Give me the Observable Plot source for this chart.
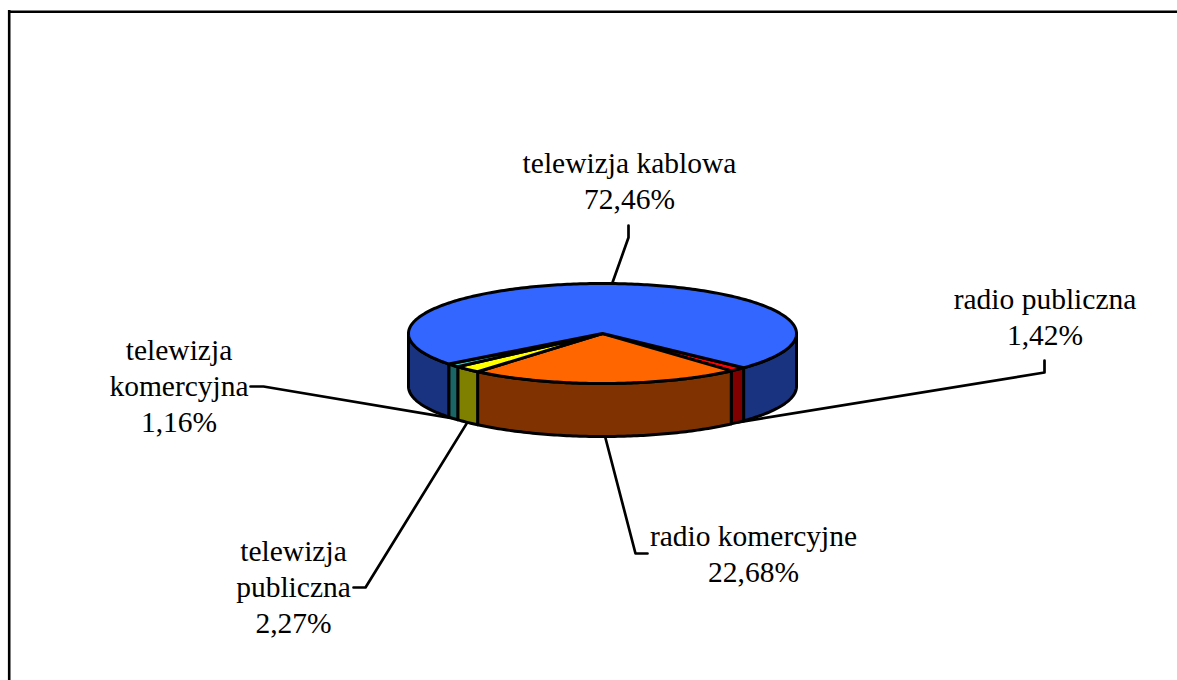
<!DOCTYPE html>
<html><head><meta charset="utf-8">
<script src="https://cdn.jsdelivr.net/npm/d3@7"></script>
<script src="https://cdn.jsdelivr.net/npm/@observablehq/plot@0.6"></script>
<style>html,body{margin:0;padding:0;background:#fff;overflow:hidden}svg{display:block}</style>
</head><body><div id="chart"></div>
<script>
// Data, clockwise from the start angle
const categories = ["radio publiczna","radio komercyjne","telewizja publiczna","telewizja komercyjna","telewizja kablowa"];
const shares = [1.42,22.68,2.27,1.16,72.46];
const shareLabels = ["1,42%","22,68%","2,27%","1,16%","72,46%"];
const labelNames = ["radio publiczna","radio komercyjne","telewizja\npubliczna","telewizja\nkomercyjna","telewizja kablowa"];
const topColors = ["#ff0000","#ff6600","#ffff00","#33cccc","#3366ff"];
const sideColors = ["#800000","#803300","#808000","#1a6666","#1a3380"];
// Layout
const cx=602, cy=333, rx=194, ry=50, depth=53, startDeg=43.3;
const labelPos = [[1044.5,315],[753,552],[293,585],[178.5,384],[629,179]];
const elbows = [[[1044,372],[1044,360]],[[635,553],[647,553]],[[365,587],[353,587]],[[263,386],[250,386]],[[628,237],[628,225]]];
const total = d3.sum(shares);
let acc = startDeg;
const slices = categories.map((c,i)=>{
  const a0=acc*Math.PI/180; acc+=shares[i]/total*360; const a1=acc*Math.PI/180;
  return {c,i,a0,a1,mid:(a0+a1)/2};
});
const pt=(a,dz=0)=>({x:cx+rx*Math.cos(a),y:cy+ry*Math.sin(a)+dz});
const arc=(a0,a1,dz=0)=>{const n=Math.max(2,Math.ceil((a1-a0)*60));return d3.range(n+1).map(k=>pt(a0+(a1-a0)*k/n,dz));};
const closed=p=>[...p,p[0]];
const topFace=s=>closed([{x:cx,y:cy},...arc(s.a0,s.a1)]);
// visible side walls: only the front half of the rim
function sides(s){
  const tw=2*Math.PI, out=[];
  const clip=(a,b,l,h)=>{const x=Math.max(a,l),y=Math.min(b,h);return x<y?[x,y]:null;};
  for(const k of [0,1]){const r=clip(s.a0,s.a1,k*tw,k*tw+Math.PI);if(r)out.push(r);}
  return out.map(([a,b])=>closed([...arc(a,b),...arc(a,b,depth).reverse()]));
}
const st={stroke:"#000",strokeWidth:3};
const marks=[
  Plot.ruleY([11.3],{x1:8,x2:1177,stroke:"#000",strokeWidth:2.6}),
  Plot.ruleX([8.7],{y1:10,y2:680,stroke:"#000",strokeWidth:2.6}),
];
slices.forEach((s,i)=>{
  const rim=s.i===4?pt(s.mid):pt(s.mid,depth);
  marks.push(Plot.line([rim,...elbows[i].map(([x,y])=>({x,y}))],{x:"x",y:"y",stroke:"#000",strokeWidth:2.7}));
});
slices.forEach(s=>sides(s).forEach(p=>marks.push(Plot.line(p,{x:"x",y:"y",fill:sideColors[s.i],...st}))));
slices.forEach(s=>marks.push(Plot.line(topFace(s),{x:"x",y:"y",fill:topColors[s.i],...st})));
const labelData=slices.map((s,i)=>({text:labelNames[i]+"\n"+shareLabels[i],x:labelPos[i][0],y:labelPos[i][1]}));
marks.push(Plot.text(labelData,{x:"x",y:"y",text:"text",fontFamily:"Liberation Serif",fontSize:29.5,fill:"#000",lineHeight:1.23,textAnchor:"middle"}));
document.getElementById("chart").append(Plot.plot({
  width:1177,height:680,margin:0,
  x:{domain:[0,1177],range:[0,1177],axis:null},
  y:{domain:[0,680],range:[0,680],axis:null},
  marks
}));
</script></body></html>
